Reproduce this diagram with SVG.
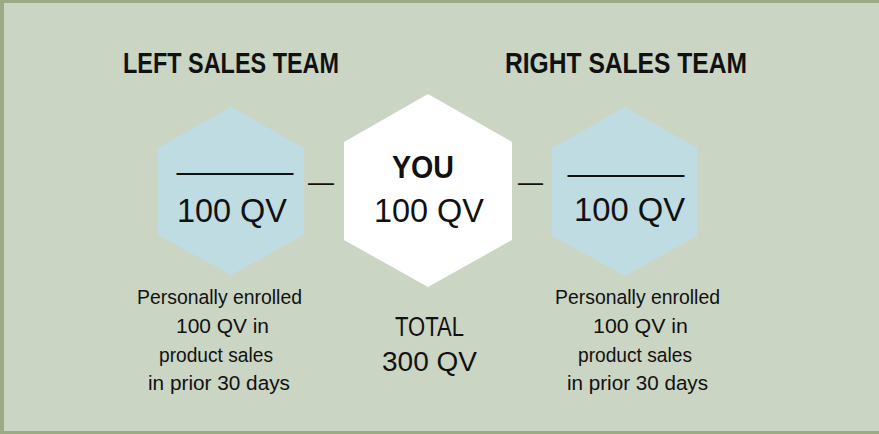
<svg xmlns="http://www.w3.org/2000/svg" width="879" height="434" viewBox="0 0 879 434">
<style>
text{font-family:"Liberation Sans",Arial,sans-serif;fill:#111;}
.title{font-size:29px;font-weight:bold;}
.qv{font-size:33px;text-anchor:middle;}
.us{font-size:33px;}
.desc{font-size:20.5px;text-anchor:middle;}
.tot{font-size:27px;text-anchor:middle;}
.side{fill:#bfdce2;}
.dash{font-size:26px;}
</style>
<rect x="0" y="0" width="879" height="434" fill="#9aab85"/>
<rect x="4" y="3" width="875" height="428" fill="#cad5c3"/>
<text class="title" x="123" y="73" textLength="216" lengthAdjust="spacingAndGlyphs">LEFT SALES TEAM</text>
<text class="title" x="505" y="73" textLength="242" lengthAdjust="spacingAndGlyphs">RIGHT SALES TEAM</text>
<g id="connectors">
<text class="dash" x="308" y="191" textLength="26" lengthAdjust="spacingAndGlyphs">—</text>
<text class="dash" x="518" y="191" textLength="25" lengthAdjust="spacingAndGlyphs">—</text>
</g>
<g id="left-team">
<polygon class="side" points="231,107 304,148 304,235 231,275 158,235 158,148"/>
<text class="us" x="177" y="168" textLength="116" lengthAdjust="spacingAndGlyphs">______</text>
<text class="qv" x="232" y="222" textLength="110" lengthAdjust="spacingAndGlyphs">100 QV</text>
</g>
<g id="you">
<polygon fill="#ffffff" points="428,94 512,142 512,240 428,287 344,240 344,142"/>
<text x="423" y="178" font-size="32" font-weight="bold" text-anchor="middle" textLength="62" lengthAdjust="spacingAndGlyphs">YOU</text>
<text class="qv" x="429" y="222" textLength="110" lengthAdjust="spacingAndGlyphs">100 QV</text>
</g>
<g id="right-team">
<polygon class="side" points="625,107 697,148 697,236 625,276 552,236 552,148"/>
<text class="us" x="568" y="170" textLength="116" lengthAdjust="spacingAndGlyphs">______</text>
<text class="qv" x="629.5" y="221" textLength="111" lengthAdjust="spacingAndGlyphs">100 QV</text>
</g>
<g id="left-desc">
<text class="desc" x="219.5" y="304" textLength="165" lengthAdjust="spacingAndGlyphs">Personally enrolled</text>
<text class="desc" x="222.5" y="333" textLength="93" lengthAdjust="spacingAndGlyphs">100 QV in</text>
<text class="desc" x="216" y="362" textLength="114" lengthAdjust="spacingAndGlyphs">product sales</text>
<text class="desc" x="219" y="390" textLength="142" lengthAdjust="spacingAndGlyphs">in prior 30 days</text>
</g>
<g id="total">
<text class="tot" x="429.5" y="336" textLength="69" lengthAdjust="spacingAndGlyphs">TOTAL</text>
<text class="tot" x="429.5" y="371" textLength="95" lengthAdjust="spacingAndGlyphs">300 QV</text>
</g>
<g id="right-desc">
<text class="desc" x="637.5" y="304" textLength="165" lengthAdjust="spacingAndGlyphs">Personally enrolled</text>
<text class="desc" x="640.5" y="333" textLength="95" lengthAdjust="spacingAndGlyphs">100 QV in</text>
<text class="desc" x="635" y="362" textLength="114" lengthAdjust="spacingAndGlyphs">product sales</text>
<text class="desc" x="637.5" y="390" textLength="141" lengthAdjust="spacingAndGlyphs">in prior 30 days</text>
</g>
</svg>
